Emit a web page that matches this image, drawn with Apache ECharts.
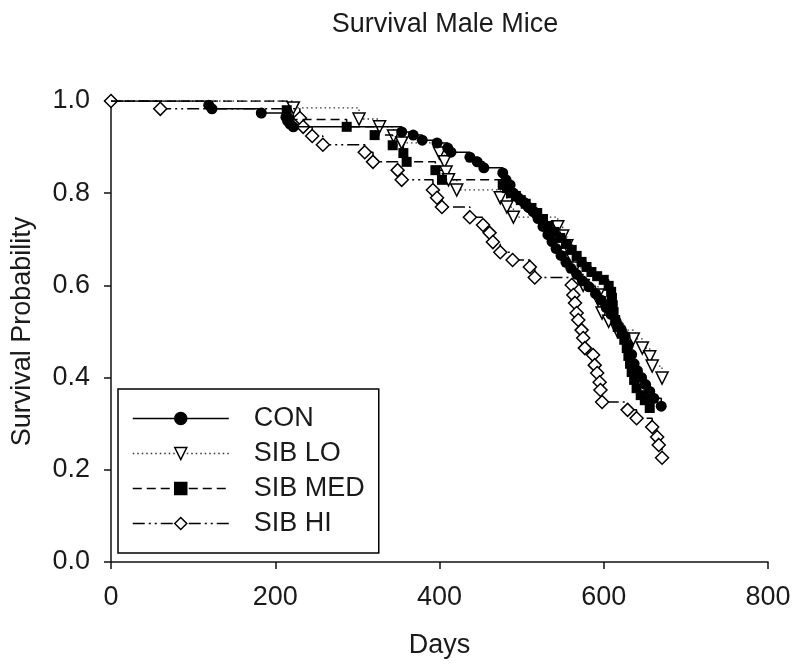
<!DOCTYPE html>
<html>
<head>
<meta charset="utf-8">
<script src="https://cdn.jsdelivr.net/npm/echarts@6/dist/echarts.min.js"></script>
<style>
html,body{margin:0;padding:0;background:#fff;}
#chart{width:800px;height:671px;}
</style>
</head>
<body>
<div id="chart"></div>
<script>
// ---- Data ----
const seriesNames = ['CON', 'SIB LO', 'SIB MED', 'SIB HI'];
const xTicks = [0, 200, 400, 600, 800];
const yTicks = [0.0, 0.2, 0.4, 0.6, 0.8, 1.0];

const conDays = [0, 119, 123, 183, 213, 215, 218, 222, 354, 368, 379, 397, 410, 414, 437, 446, 454, 477, 481, 486, 490, 496, 503, 508, 514, 520, 526, 532, 537, 542, 548, 554, 560, 567, 574, 582, 590, 597, 603, 609, 615, 621, 626, 630, 634, 637, 641, 646, 651, 656, 661, 670];
const conSurv = [1.0, 0.991, 0.983, 0.974, 0.965, 0.957, 0.950, 0.944, 0.933, 0.926, 0.915, 0.909, 0.898, 0.889, 0.878, 0.868, 0.855, 0.844, 0.829, 0.818, 0.80, 0.79, 0.78, 0.77, 0.76, 0.745, 0.728, 0.71, 0.695, 0.68, 0.665, 0.65, 0.637, 0.624, 0.61, 0.597, 0.582, 0.568, 0.552, 0.537, 0.522, 0.505, 0.49, 0.47, 0.45, 0.43, 0.415, 0.40, 0.385, 0.37, 0.355, 0.338];

const loDays = [0, 222, 302, 327, 344, 354, 400, 406, 408, 411, 421, 474, 482, 490, 544, 550, 555, 561, 565, 575, 593, 595, 598, 606, 616, 636, 647, 656, 659, 671];
const loSurv = [1.0, 0.985, 0.961, 0.944, 0.924, 0.909, 0.887, 0.868, 0.846, 0.829, 0.807, 0.79, 0.77, 0.748, 0.727, 0.707, 0.686, 0.66, 0.638, 0.60, 0.579, 0.562, 0.54, 0.522, 0.503, 0.484, 0.464, 0.445, 0.425, 0.399];

const medDays = [0, 214, 217, 287, 321, 343, 356, 360, 395, 403, 477, 482, 487, 493, 499, 505, 512, 519, 526, 533, 540, 547, 554, 561, 567, 573, 579, 585, 592, 600, 606, 609, 610, 611, 612, 614, 617, 622, 625, 628, 630, 632, 634, 637, 640, 645, 650, 656];
const medSurv = [1.0, 0.98, 0.96, 0.944, 0.926, 0.904, 0.887, 0.868, 0.85, 0.829, 0.818, 0.811, 0.80, 0.794, 0.785, 0.777, 0.768, 0.757, 0.744, 0.729, 0.716, 0.703, 0.69, 0.677, 0.664, 0.651, 0.64, 0.629, 0.62, 0.612, 0.599, 0.586, 0.573, 0.557, 0.542, 0.525, 0.51, 0.495, 0.482, 0.464, 0.447, 0.43, 0.412, 0.395, 0.377, 0.362, 0.351, 0.334];

const hiDays = [0, 60, 230, 234, 245, 258, 309, 319, 349, 354, 392, 397, 403, 437, 453, 461, 465, 474, 489, 510, 516, 561, 563, 565, 567, 569, 573, 575, 577, 587, 589, 592, 595, 596, 598, 629, 640, 659, 665, 667, 671];
const hiSurv = [1.0, 0.983, 0.963, 0.944, 0.924, 0.905, 0.889, 0.868, 0.85, 0.829, 0.807, 0.79, 0.77, 0.748, 0.731, 0.714, 0.694, 0.672, 0.655, 0.64, 0.617, 0.601, 0.579, 0.562, 0.54, 0.525, 0.503, 0.486, 0.464, 0.449, 0.427, 0.41, 0.39, 0.373, 0.347, 0.33, 0.312, 0.293, 0.271, 0.254, 0.226];

// ---- Build ----
function pairs(days, surv, hideFirst) {
  return days.map((d, i) => (i === 0 && hideFirst) ? { value: [d, surv[i]], symbol: 'none' } : [d, surv[i]]);
}

const FONT = 'Liberation Sans, Arial, sans-serif';
const TXT = '#1a1a1a';

const chart = echarts.init(document.getElementById('chart'), null, { renderer: 'canvas' });

const hollow = { color: '#fff', borderColor: '#000', borderWidth: 1.5 };

chart.setOption({
  animation: false,
  backgroundColor: '#fff',
  title: {
    text: 'Survival Male Mice',
    left: 440,
    textAlign: 'center',
    top: 6,
    textStyle: { fontFamily: FONT, fontSize: 27, fontWeight: 'normal', color: TXT }
  },
  grid: { left: 111, right: 32, top: 101, bottom: 109, containLabel: false },
  legend: {
    data: seriesNames,
    orient: 'vertical',
    left: 118,
    top: 389,
    padding: [16, 14, 16, 14],
    itemGap: 8,
    itemWidth: 96,
    itemHeight: 15,
    borderColor: '#000',
    borderWidth: 1.5,
    backgroundColor: '#fff',
    selectedMode: false,
    lineStyle: { width: 1.5 },
    itemStyle: { borderWidth: 1.5 },
    textStyle: { fontFamily: FONT, fontSize: 27, color: TXT, padding: [0, 0, 0, 20] }
  },
  xAxis: {
    type: 'value',
    min: 0, max: 800, interval: 200,
    name: 'Days',
    nameLocation: 'middle',
    nameGap: 70,
    nameTextStyle: { fontFamily: FONT, fontSize: 27, color: TXT },
    axisLine: { show: true, lineStyle: { color: '#111', width: 1.5 } },
    axisTick: { show: true, length: 7, lineStyle: { color: '#111', width: 1.5 } },
    axisLabel: { margin: 22, fontFamily: FONT, fontSize: 27, color: TXT,
      formatter: v => xTicks.includes(v) ? String(v) : '' },
    splitLine: { show: false }
  },
  yAxis: {
    type: 'value',
    min: 0, max: 1.0, interval: 0.2,
    name: 'Survival Probability',
    nameLocation: 'middle',
    nameGap: 75,
    nameTextStyle: { fontFamily: FONT, fontSize: 27, color: TXT },
    axisLine: { show: true, lineStyle: { color: '#111', width: 1.5 } },
    axisTick: { show: true, length: 7, lineStyle: { color: '#111', width: 1.5 } },
    axisLabel: { margin: 21, fontFamily: FONT, fontSize: 27, color: TXT,
      formatter: v => yTicks.some(t => Math.abs(t - v) < 1e-9) ? v.toFixed(1) : '' },
    splitLine: { show: false }
  },
  series: [
    {
      name: 'SIB LO', type: 'line', step: 'end', z: 2,
      data: pairs(loDays, loSurv, true),
      showAllSymbol: true,
      symbol: 'triangle', symbolRotate: 180, symbolSize: 12,
      itemStyle: hollow,
      lineStyle: { color: '#333', width: 1.3, type: [1.5, 3] }
    },
    {
      name: 'SIB HI', type: 'line', step: 'end', z: 3,
      data: pairs(hiDays, hiSurv, false),
      showAllSymbol: true,
      symbol: 'diamond', symbolSize: 13,
      itemStyle: hollow,
      lineStyle: { color: '#000', width: 1.5, type: [12, 4, 2, 4, 2, 4] }
    },
    {
      name: 'CON', type: 'line', step: 'end', z: 4,
      data: pairs(conDays, conSurv, true),
      showAllSymbol: true,
      symbol: 'circle', symbolSize: 11,
      itemStyle: { color: '#000', borderColor: '#000', borderWidth: 0 },
      lineStyle: { color: '#000', width: 1.5, type: 'solid' }
    },
    {
      name: 'SIB MED', type: 'line', step: 'end', z: 5,
      data: pairs(medDays, medSurv, true),
      showAllSymbol: true,
      symbol: 'rect', symbolSize: 10,
      itemStyle: { color: '#000', borderColor: '#000', borderWidth: 0 },
      lineStyle: { color: '#000', width: 1.5, type: [9, 5] }
    }
  ]
});
</script>
</body>
</html>
